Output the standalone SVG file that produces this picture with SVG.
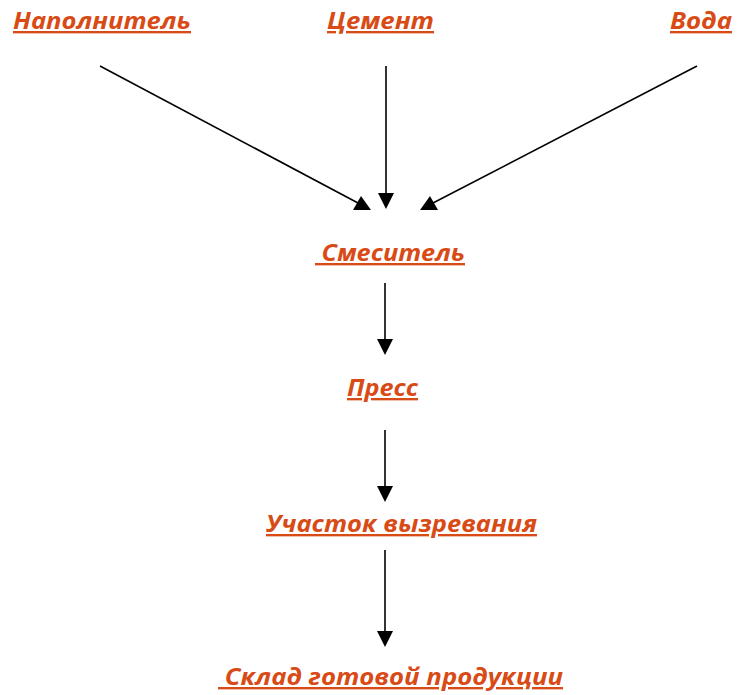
<svg xmlns="http://www.w3.org/2000/svg" width="737" height="695" viewBox="0 0 737 695">
<style>
text{font-family:"Open Sans","Noto Sans","Liberation Sans",sans-serif;font-weight:bold;font-style:italic;font-size:23.5px;fill:#D84B16;text-decoration:underline;text-decoration-thickness:2.5px;text-underline-offset:4px;white-space:pre}
.c line{stroke:#000;stroke-width:1.6}
.c polygon{fill:#000}
</style>
<rect width="737" height="695" fill="#fff"/>
<g id="connectors" class="c">
<line x1="100" y1="66" x2="358" y2="203"/>
<polygon points="371,210 353,210 361,196"/>
<line x1="386" y1="66" x2="386" y2="195"/>
<polygon points="386,209 378,193 394,193"/>
<line x1="697" y1="66" x2="433" y2="203"/>
<polygon points="420,210 430,196 438,210"/>
<line x1="385" y1="283" x2="385" y2="340"/>
<polygon points="385,355 377,339 393,339"/>
<line x1="385" y1="430" x2="385" y2="486"/>
<polygon points="385,502 377,486 393,486"/>
<line x1="385" y1="550" x2="385" y2="631"/>
<polygon points="385,647 377,631 393,631"/>
</g>
<g id="n1"><text x="13" y="29" textLength="178" lengthAdjust="spacingAndGlyphs">Наполнитель</text></g>
<g id="n2"><text x="327" y="29" textLength="107" lengthAdjust="spacingAndGlyphs">Цемент</text></g>
<g id="n3"><text x="670" y="29" textLength="62" lengthAdjust="spacingAndGlyphs">Вода</text></g>
<g id="n4"><text x="315" y="261" textLength="150" lengthAdjust="spacingAndGlyphs"> Смеситель</text></g>
<g id="n5"><text x="347" y="396" textLength="71" lengthAdjust="spacingAndGlyphs">Пресс</text></g>
<g id="n6"><text x="266" y="532" textLength="271" lengthAdjust="spacingAndGlyphs">Участок вызревания</text></g>
<g id="n7"><text x="218" y="685" textLength="345" lengthAdjust="spacingAndGlyphs"> Склад готовой продукции</text></g>
</svg>
